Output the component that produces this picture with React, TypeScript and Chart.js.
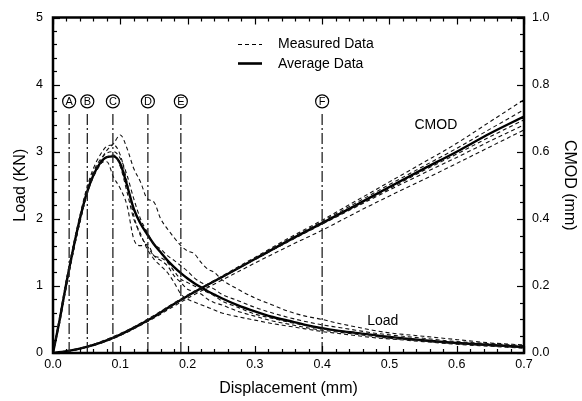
import React, { useEffect, useRef } from 'react';
import { Chart, registerables } from 'chart.js';

Chart.register(...registerables);

// Displacement grid (mm) for load curves
const loadX = [0, 0.01, 0.02, 0.03, 0.04, 0.05, 0.06, 0.07, 0.08, 0.09, 0.1, 0.11, 0.12, 0.13, 0.14, 0.15, 0.16, 0.17, 0.18, 0.19, 0.2, 0.21, 0.22, 0.23, 0.24, 0.25, 0.275, 0.3, 0.325, 0.35, 0.375, 0.4, 0.425, 0.45, 0.475, 0.5, 0.55, 0.6, 0.65, 0.7];

const loadAvg = [0, 0.5, 1.05, 1.55, 2.0, 2.38, 2.65, 2.83, 2.92, 2.93, 2.82, 2.5, 2.15, 1.93, 1.77, 1.62, 1.5, 1.38, 1.28, 1.19, 1.11, 1.04, 0.98, 0.92, 0.87, 0.82, 0.71, 0.62, 0.54, 0.48, 0.42, 0.37, 0.33, 0.3, 0.27, 0.24, 0.19, 0.15, 0.12, 0.09];
const loadM1 = [0, 0.45, 1.0, 1.5, 1.95, 2.35, 2.65, 2.85, 3.02, 3.12, 3.25, 3.05, 2.75, 2.55, 2.3, 2.25, 2.0, 1.85, 1.72, 1.6, 1.52, 1.48, 1.35, 1.25, 1.2, 1.1, 0.95, 0.82, 0.72, 0.62, 0.55, 0.5, 0.44, 0.39, 0.34, 0.3, 0.25, 0.2, 0.15, 0.12];
const loadM2 = [0, 0.55, 1.1, 1.6, 2.05, 2.45, 2.75, 2.95, 3.08, 3.1, 2.95, 2.55, 2.05, 1.75, 1.6, 1.45, 1.42, 1.35, 1.22, 1.1, 1.05, 1.0, 0.95, 0.9, 0.85, 0.78, 0.68, 0.58, 0.52, 0.46, 0.41, 0.36, 0.33, 0.3, 0.27, 0.24, 0.19, 0.15, 0.12, 0.1];
const loadM3 = [0, 0.5, 1.05, 1.55, 2.0, 2.4, 2.68, 2.82, 2.85, 2.62, 2.45, 2.2, 1.7, 1.6, 1.62, 1.45, 1.38, 1.3, 1.15, 1.05, 0.95, 0.92, 0.88, 0.8, 0.75, 0.72, 0.62, 0.55, 0.48, 0.43, 0.38, 0.34, 0.31, 0.28, 0.25, 0.22, 0.18, 0.14, 0.11, 0.08];
const loadM4 = [0, 0.5, 1.0, 1.5, 1.95, 2.35, 2.62, 2.8, 2.92, 2.95, 2.78, 2.4, 2.0, 1.78, 1.55, 1.4, 1.3, 1.2, 1.05, 0.88, 0.8, 0.76, 0.72, 0.68, 0.64, 0.6, 0.54, 0.49, 0.44, 0.4, 0.36, 0.32, 0.29, 0.26, 0.23, 0.21, 0.17, 0.13, 0.1, 0.07];
const loadM5 = [0, 0.52, 1.08, 1.58, 2.02, 2.42, 2.7, 2.88, 2.98, 3.0, 2.9, 2.65, 2.3, 2.0, 1.8, 1.62, 1.55, 1.45, 1.38, 1.3, 1.22, 1.12, 1.05, 1.0, 0.95, 0.88, 0.78, 0.68, 0.6, 0.53, 0.47, 0.42, 0.38, 0.34, 0.3, 0.27, 0.22, 0.17, 0.14, 0.11];

// Displacement grid (mm) for CMOD curves
const cmodX = [0, 0.025, 0.05, 0.075, 0.1, 0.125, 0.15, 0.175, 0.2, 0.225, 0.25, 0.3, 0.35, 0.4, 0.45, 0.5, 0.55, 0.6, 0.65, 0.7];
const cmodAvg = [0, 0.007, 0.018, 0.034, 0.055, 0.08, 0.108, 0.14, 0.17, 0.198, 0.225, 0.28, 0.335, 0.387, 0.44, 0.495, 0.548, 0.6, 0.655, 0.705];
const cmodM1 = [0, 0.008, 0.02, 0.037, 0.058, 0.083, 0.112, 0.143, 0.173, 0.2, 0.228, 0.285, 0.342, 0.396, 0.453, 0.51, 0.567, 0.625, 0.69, 0.755];
const cmodM2 = [0, 0.007, 0.019, 0.035, 0.056, 0.081, 0.109, 0.141, 0.171, 0.199, 0.226, 0.282, 0.338, 0.392, 0.447, 0.502, 0.556, 0.61, 0.668, 0.725];
const cmodM3 = [0, 0.006, 0.017, 0.033, 0.054, 0.079, 0.107, 0.139, 0.169, 0.197, 0.224, 0.279, 0.333, 0.386, 0.438, 0.49, 0.543, 0.593, 0.645, 0.695];
const cmodM4 = [0, 0.007, 0.018, 0.034, 0.055, 0.08, 0.108, 0.14, 0.17, 0.198, 0.225, 0.279, 0.332, 0.384, 0.435, 0.486, 0.535, 0.583, 0.632, 0.68];
const cmodM5 = [0, 0.006, 0.017, 0.032, 0.052, 0.077, 0.104, 0.134, 0.163, 0.19, 0.216, 0.268, 0.318, 0.366, 0.418, 0.468, 0.516, 0.565, 0.615, 0.665];

// Stage markers
const markerX = [0.024, 0.051, 0.089, 0.141, 0.19, 0.4];
const markerLabels = ['A', 'B', 'C', 'D', 'E', 'F'];
const markerTop = 3.56;
const markerLabelY = 3.75;

// Curve annotations
const annotX = [0.569, 0.49];
const annotY = [3.39, 0.476];
const annotText = ['CMOD', 'Load'];

const legendLabels = ['Measured Data', 'Average Data'];

const FONT = '"Liberation Sans", Arial, Helvetica, sans-serif';

function pts(xs: number[], ys: number[]) {
  return xs.map((x, i) => ({ x, y: ys[i] }));
}

export default function App() {
  const ref = useRef<HTMLCanvasElement | null>(null);

  useEffect(() => {
    const canvas = ref.current;
    if (!canvas) return;

    const dashed = (data: number[], xs: number[], axis: string) => ({
      data: pts(xs, data),
      yAxisID: axis,
      borderColor: '#111',
      borderWidth: 1.1,
      borderDash: [4, 3],
      pointRadius: 0,
      cubicInterpolationMode: 'monotone',
      fill: false,
    });
    const solid = (data: number[], xs: number[], axis: string) => ({
      data: pts(xs, data),
      yAxisID: axis,
      borderColor: '#000',
      borderWidth: 2.4,
      pointRadius: 0,
      cubicInterpolationMode: 'monotone',
      fill: false,
    });

    const markerSets = markerX.map((mx) => ({
      data: [{ x: mx, y: 0 }, { x: mx, y: markerTop }],
      yAxisID: 'y',
      borderColor: '#222',
      borderWidth: 1.3,
      borderDash: [11, 3, 2, 3],
      pointRadius: 0,
      fill: false,
    }));

    const decor = {
      id: 'decor',
      afterDraw(chart: any) {
        const c = chart.ctx;
        const { left, right, top, bottom } = chart.chartArea;
        const xs = chart.scales.x;
        const ys = chart.scales.y;
        const y1 = chart.scales.y1;
        c.save();
        c.strokeStyle = '#000';
        c.lineWidth = 1.2;
        for (let i = 0; i <= 35; i++) {
          const px = Math.round(xs.getPixelForValue(i * 0.02)) + 0.5;
          const len = i % 5 === 0 ? 7 : 4;
          c.beginPath();
          c.moveTo(px, bottom);
          c.lineTo(px, bottom - len);
          c.moveTo(px, top);
          c.lineTo(px, top + len);
          c.stroke();
        }
        for (let i = 0; i <= 25; i++) {
          const py = Math.round(ys.getPixelForValue(i * 0.2)) + 0.5;
          const len = i % 5 === 0 ? 7 : 4;
          c.beginPath();
          c.moveTo(left, py);
          c.lineTo(left + len, py);
          c.stroke();
        }
        for (let i = 0; i <= 20; i++) {
          const py = Math.round(y1.getPixelForValue(i * 0.05)) + 0.5;
          const len = i % 4 === 0 ? 7 : 4;
          c.beginPath();
          c.moveTo(right, py);
          c.lineTo(right - len, py);
          c.stroke();
        }
        c.lineWidth = 2.5;
        c.strokeRect(left, top, right - left, bottom - top);

        // circled marker labels
        c.lineWidth = 1.2;
        c.font = `11px ${FONT}`;
        c.textAlign = 'center';
        c.textBaseline = 'middle';
        c.fillStyle = '#000';
        markerX.forEach((mx, i) => {
          const px = xs.getPixelForValue(mx);
          const py = ys.getPixelForValue(markerLabelY);
          c.beginPath();
          c.arc(px, py, 6.5, 0, Math.PI * 2);
          c.stroke();
          c.fillText(markerLabels[i], px, py + 0.5);
        });

        // annotations
        c.font = `14px ${FONT}`;
        annotText.forEach((t, i) => {
          c.fillText(t, xs.getPixelForValue(annotX[i]), ys.getPixelForValue(annotY[i]));
        });

        // legend
        c.textAlign = 'left';
        c.font = `14px ${FONT}`;
        const lx0 = 238, lx1 = 262, tx = 278;
        c.lineWidth = 1.1;
        c.setLineDash([4, 3]);
        c.beginPath();
        c.moveTo(lx0, 44.5);
        c.lineTo(lx1, 44.5);
        c.stroke();
        c.setLineDash([]);
        c.lineWidth = 2.6;
        c.beginPath();
        c.moveTo(lx0, 63.5);
        c.lineTo(lx1, 63.5);
        c.stroke();
        c.fillText(legendLabels[0], tx, 44.5);
        c.fillText(legendLabels[1], tx, 64);
        c.restore();
      },
    };

    const tickFont = { family: FONT, size: 12.5 };
    const titleFont = { family: FONT, size: 16 };

    const chart = new Chart(canvas, {
      type: 'line',
      data: {
        datasets: [
          ...markerSets,
          dashed(loadM1, loadX, 'y'),
          dashed(loadM2, loadX, 'y'),
          dashed(loadM3, loadX, 'y'),
          dashed(loadM4, loadX, 'y'),
          dashed(loadM5, loadX, 'y'),
          dashed(cmodM1, cmodX, 'y1'),
          dashed(cmodM2, cmodX, 'y1'),
          dashed(cmodM3, cmodX, 'y1'),
          dashed(cmodM4, cmodX, 'y1'),
          dashed(cmodM5, cmodX, 'y1'),
          solid(loadAvg, loadX, 'y'),
          solid(cmodAvg, cmodX, 'y1'),
        ] as any,
      },
      options: {
        responsive: false,
        animation: false,
        layout: { padding: { top: 13, left: 0, right: 0, bottom: 0 } },
        plugins: { legend: { display: false }, tooltip: { enabled: false } },
        scales: {
          x: {
            type: 'linear',
            min: 0,
            max: 0.7,
            grid: { display: false, drawTicks: false },
            border: { display: false },
            ticks: {
              stepSize: 0.1,
              padding: 4,
              color: '#000',
              font: tickFont,
              maxRotation: 0,
              callback: (v: any) => Number(v).toFixed(1),
            },
            title: { display: true, text: 'Displacement (mm)', color: '#000', font: titleFont, padding: { top: 0, bottom: 3 } },
            afterFit: (s: any) => { s.height = 48; },
          },
          y: {
            type: 'linear',
            position: 'left',
            min: 0,
            max: 5,
            grid: { display: false, drawTicks: false },
            border: { display: false },
            ticks: { stepSize: 1, padding: 10, color: '#000', font: tickFont },
            title: { display: true, text: 'Load (KN)', color: '#000', font: titleFont, padding: { top: 11, bottom: 0 } },
            afterFit: (s: any) => { s.width = 53; },
          },
          y1: {
            type: 'linear',
            position: 'right',
            min: 0,
            max: 1,
            grid: { display: false, drawTicks: false },
            border: { display: false },
            ticks: {
              stepSize: 0.2,
              padding: 8,
              color: '#000',
              font: tickFont,
              callback: (v: any) => Number(v).toFixed(1),
            },
            title: { display: true, text: 'CMOD (mm)', color: '#000', font: titleFont, padding: { top: 3, bottom: 0 } },
            afterFit: (s: any) => { s.width = 58; },
          },
        },
      } as any,
      plugins: [decor],
    });

    return () => chart.destroy();
  }, []);

  return (
    <div style={{ position: 'fixed', left: 0, top: 0, width: 582, height: 401, background: '#fff' }}>
      <canvas ref={ref} width={582} height={401} style={{ display: 'block' }} />
    </div>
  );
}
